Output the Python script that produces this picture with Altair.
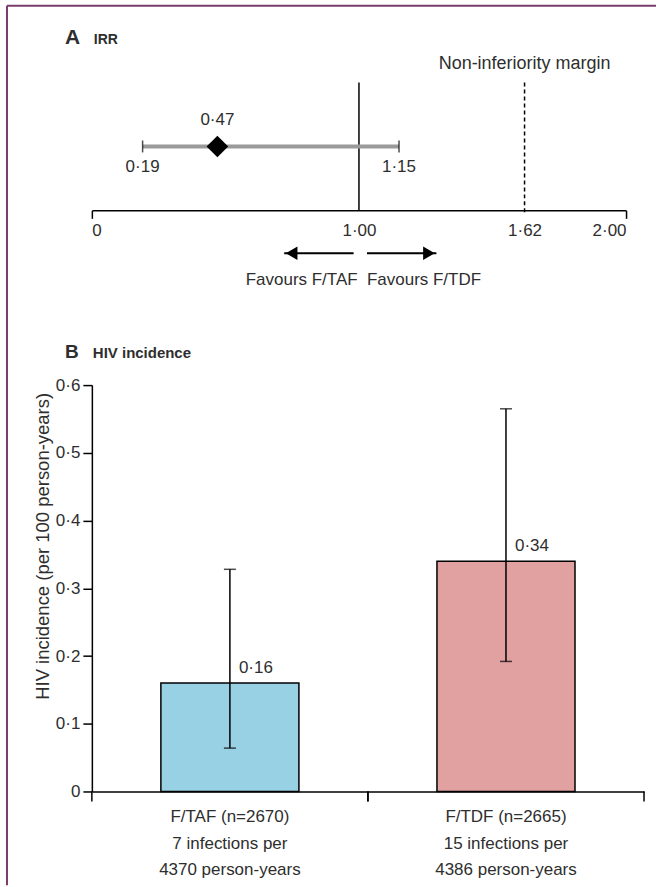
import altair as alt
import pandas as pd

# ---------------- Panel A: incidence rate ratio ----------------
irr_point = [0.47]
irr_lower = [0.19]
irr_upper = [1.15]
null_value = [1.00]
margin_value = [1.62]
axis_a_ticks = [0, 1.00, 1.62, 2.00]
favour_labels = ["Favours F/TAF", "Favours F/TDF"]
arrow_start = [0.98, 1.03]
arrow_end = [0.72, 1.29]

# ---------------- Panel B: HIV incidence ----------------
groups = ["F/TAF (n=2670)", "F/TDF (n=2665)"]
group_notes = ["7 infections per\n4370 person-years", "15 infections per\n4386 person-years"]
incidence = [0.16, 0.34]
ci_low = [0.064, 0.192]
ci_high = [0.328, 0.565]
bar_colors = ["#98D1E4", "#E0A1A0"]
y_ticks_b = [0, 0.1, 0.2, 0.3, 0.4, 0.5, 0.6]

FONT = "Liberation Sans"
TXT = "#2e2e2e"
FS = 17
BORDER = "#7B3B6B"

WA, HA = 535, 128
WB, HB = 553, 407

dot_fmt2 = "datum.v === 0 ? '0' : replace(format(datum.v, '.2f'), '.', '·')"

one = pd.DataFrame({"k": [0]})
xscale_a = alt.Scale(domain=[0, 2], nice=False, zero=False)

axis_a = alt.Axis(
    values=axis_a_ticks,
    labelExpr="datum.value === 0 ? '0' : replace(format(datum.value, '.2f'), '.', '·')",
    tickSize=8, tickWidth=1.5, tickColor="black",
    tickOpacity={"condition": {"test": "datum.value === 0 || datum.value === 2", "value": 1}, "value": 0},
    domainColor="black", domainWidth=1.5,
    labelFont=FONT, labelFontSize=FS, labelColor=TXT, labelPadding=4,
    grid=False, title=None,
)


def xa(field="v"):
    return alt.X(f"{field}:Q", scale=xscale_a, axis=axis_a, title=None)


ref_line = alt.Chart(pd.DataFrame({"v": null_value})).mark_rule(
    color="black", strokeWidth=1.5
).encode(x=xa("v"), y=alt.value(0), y2=alt.value(HA))

margin_line = alt.Chart(pd.DataFrame({"v": margin_value})).mark_rule(
    color="black", strokeWidth=1.5, strokeDash=[4, 3]
).encode(x=xa(), y=alt.value(0), y2=alt.value(HA + 4))

margin_text = alt.Chart(pd.DataFrame({"v": margin_value})).mark_text(
    font=FONT, fontSize=18, color=TXT, baseline="middle", align="center"
).encode(x=xa(), y=alt.value(-19), text=alt.value("Non-inferiority margin"))

ci_df = pd.DataFrame({"lo": irr_lower, "hi": irr_upper})
ci_line = alt.Chart(ci_df).mark_rule(color="#9A9A9A", strokeWidth=4).encode(
    x=xa("lo"), x2="hi:Q", y=alt.value(64)
)

ends_df = pd.DataFrame({"v": irr_lower + irr_upper})
caps_a = alt.Chart(ends_df).mark_tick(
    color="black", thickness=1.5, size=12, orient="vertical"
).encode(x=xa(), y=alt.value(64))

ends_lab = alt.Chart(ends_df).transform_calculate(lab=dot_fmt2).mark_text(
    font=FONT, fontSize=FS, color=TXT, baseline="middle"
).encode(x=xa(), y=alt.value(85), text="lab:N")

pt_df = pd.DataFrame({"v": irr_point})
diamond = alt.Chart(pt_df).mark_point(
    shape="diamond", filled=True, size=470, color="black", opacity=1
).encode(x=xa(), y=alt.value(64))

pt_lab = alt.Chart(pt_df).transform_calculate(lab=dot_fmt2).mark_text(
    font=FONT, fontSize=FS, color=TXT, baseline="middle"
).encode(x=xa(), y=alt.value(38), text="lab:N")

arr_df = pd.DataFrame({"s": arrow_start, "e": arrow_end, "lab": favour_labels})
arrow_lines = alt.Chart(arr_df).mark_rule(color="black", strokeWidth=2).encode(
    x=xa("s"), x2="e:Q", y=alt.value(171)
)
head_left = alt.Chart(arr_df.iloc[[0]]).mark_point(
    shape="triangle-left", filled=True, size=180, color="black", opacity=1, xOffset=7.5
).encode(x=xa("e"), y=alt.value(171))
head_right = alt.Chart(arr_df.iloc[[1]]).mark_point(
    shape="triangle-right", filled=True, size=180, color="black", opacity=1, xOffset=-7.5
).encode(x=xa("e"), y=alt.value(171))
fav_left = alt.Chart(arr_df.iloc[[0]]).mark_text(
    font=FONT, fontSize=FS, color=TXT, align="right", baseline="middle", dx=4
).encode(x=xa("s"), y=alt.value(198), text="lab:N")
fav_right = alt.Chart(arr_df.iloc[[1]]).mark_text(
    font=FONT, fontSize=FS, color=TXT, align="left", baseline="middle"
).encode(x=xa("s"), y=alt.value(198), text="lab:N")

title_a1 = alt.Chart(one).mark_text(
    font=FONT, fontSize=21, fontWeight="bold", color=TXT, align="left", baseline="alphabetic"
).encode(x=alt.value(-27), y=alt.value(-39), text=alt.value("A"))
title_a2 = alt.Chart(one).mark_text(
    font=FONT, fontSize=14, fontWeight="bold", color=TXT, align="left", baseline="alphabetic"
).encode(x=alt.value(2), y=alt.value(-39), text=alt.value("IRR"))

border_top = alt.Chart(one).mark_rule(color=BORDER, strokeWidth=2).encode(
    x=alt.value(-85), x2=alt.value(565), y=alt.value(-77)
)
border_left = alt.Chart(one).mark_rule(color=BORDER, strokeWidth=2).encode(
    x=alt.value(-85), y=alt.value(-77), y2=alt.value(804)
)

panel_a = alt.layer(
    ref_line, margin_line, margin_text, ci_line, caps_a, diamond, pt_lab, ends_lab,
    arrow_lines, head_left, head_right, fav_left, fav_right,
    border_top, border_left, title_a1, title_a2,
).properties(width=WA, height=HA)

# ---------------- Panel B ----------------
df_b = pd.DataFrame({
    "group": groups,
    "note": group_notes,
    "rate": incidence,
    "lo": ci_low,
    "hi": ci_high,
})

xb_scale = alt.Scale(domain=groups, paddingInner=0, paddingOuter=0)
xb_axis = alt.Axis(labels=False, ticks=False, title=None, domainColor="black", domainWidth=1.5, grid=False)


def xb(band=None):
    if band is None:
        return alt.X("group:N", sort=groups, scale=xb_scale, axis=xb_axis, title=None)
    return alt.X("group:N", sort=groups, scale=xb_scale, axis=xb_axis, title=None, bandPosition=band)


yb_scale = alt.Scale(domain=[0, 0.6], nice=False, zero=True)
yb_axis = alt.Axis(
    values=y_ticks_b,
    labelExpr="datum.value === 0 ? '0' : replace(format(datum.value, '.1f'), '.', '·')",
    tickSize=9, tickWidth=1.5, tickColor="black",
    domainColor="black", domainWidth=1.5,
    labelFont=FONT, labelFontSize=FS, labelColor=TXT, labelPadding=3,
    title="HIV incidence (per 100 person-years)",
    titleFont=FONT, titleFontSize=18.5, titleFontWeight="normal", titleColor=TXT,
    titleAngle=-90, titleX=-49, titleY=161, titleAlign="center", titleBaseline="middle",
    grid=False,
)


def yb(field):
    return alt.Y(f"{field}:Q", scale=yb_scale, axis=yb_axis, title="HIV incidence (per 100 person-years)")


bars = alt.Chart(df_b).mark_bar(
    width=alt.RelativeBandSize(0.5), stroke="black", strokeWidth=1.5
).encode(
    x=xb(),
    y=yb("rate"),
    fill=alt.Fill("group:N", scale=alt.Scale(domain=groups, range=bar_colors), legend=None),
)

err = alt.Chart(df_b).mark_rule(color="black", strokeWidth=1.5).encode(
    x=xb(), y=yb("lo"), y2="hi:Q"
)
cap_lo = alt.Chart(df_b).mark_tick(color="black", size=12, thickness=1.5, orient="horizontal").encode(
    x=xb(), y=yb("lo")
)
cap_hi = alt.Chart(df_b).mark_tick(color="black", size=12, thickness=1.5, orient="horizontal").encode(
    x=xb(), y=yb("hi")
)
val_lab = alt.Chart(df_b).transform_calculate(
    lab="replace(format(datum.rate, '.2f'), '.', '·')"
).mark_text(font=FONT, fontSize=FS, color=TXT, dx=26, dy=-15, baseline="middle").encode(
    x=xb(), y=yb("rate"), text="lab:N"
)
cat_lab = alt.Chart(df_b).transform_calculate(
    lab="datum.group + '\\n' + datum.note"
).mark_text(
    font=FONT, fontSize=FS, color=TXT, baseline="top", lineBreak="\n", lineHeight=26.5, align="center"
).encode(x=xb(), y=alt.value(HB + 18), text="lab:N")

tick_left = alt.Chart(df_b).mark_rule(color="black", strokeWidth=1.5).encode(
    x=xb(band=0), y=alt.value(HB), y2=alt.value(HB + 10)
)
tick_right = alt.Chart(df_b).mark_rule(color="black", strokeWidth=1.5).encode(
    x=xb(band=1), y=alt.value(HB), y2=alt.value(HB + 10)
)

title_b1 = alt.Chart(one).mark_text(
    font=FONT, fontSize=19, fontWeight="bold", color=TXT, align="left", baseline="alphabetic"
).encode(x=alt.value(-27), y=alt.value(-27), text=alt.value("B"))
title_b2 = alt.Chart(one).mark_text(
    font=FONT, fontSize=15, fontWeight="bold", color=TXT, align="left", baseline="alphabetic"
).encode(x=alt.value(1), y=alt.value(-27), text=alt.value("HIV incidence"))

panel_b = alt.layer(
    bars, err, cap_lo, cap_hi, val_lab, cat_lab, tick_left, tick_right, title_b1, title_b2
).properties(width=WB, height=HB)

chart = alt.vconcat(panel_a, panel_b, spacing=175, bounds="flush").configure(
    padding={"left": 6, "top": 4, "right": 0, "bottom": 0},
    background="white",
).configure_view(stroke=None)

chart.save("out.html", embed_options={"renderer": "svg", "actions": False})
